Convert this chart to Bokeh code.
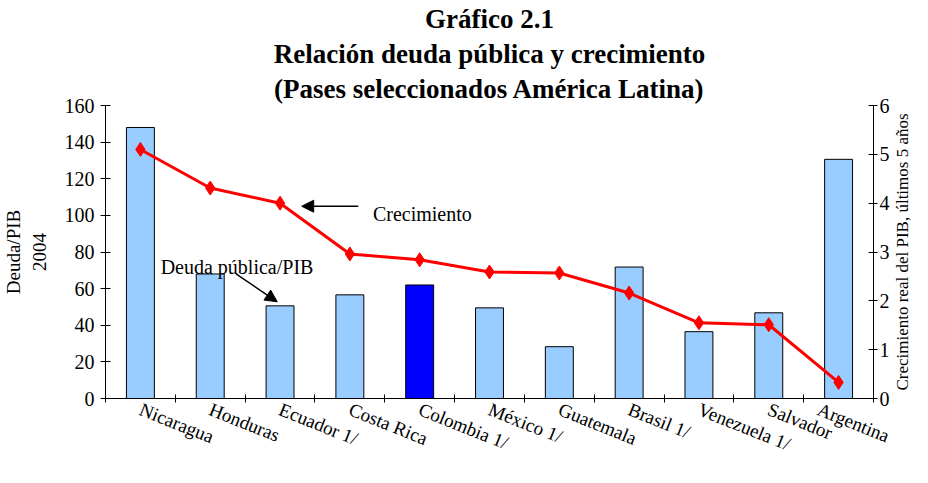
import math
from bokeh.plotting import figure
from bokeh.layouts import row
from bokeh.core.properties import value
from bokeh.models import (Range1d, LinearAxis, FixedTicker, Label, Arrow, NormalHead,
                          ColumnDataSource, Title)
from bokeh.embed import file_html
from bokeh.resources import INLINE

categories = ["Nicaragua", "Honduras", "Ecuador 1/", "Costa Rica", "Colombia 1/",
              "México 1/", "Guatemala", "Brasil 1/", "Venezuela 1/", "Salvador", "Argentina"]
deuda_pib = [148.0, 68.0, 50.6, 56.6, 62.0, 49.5, 28.3, 71.8, 36.5, 46.8, 130.6]
crecimiento = [5.10, 4.31, 4.00, 2.96, 2.84, 2.59, 2.57, 2.16, 1.55, 1.51, 0.33]
highlight = "Colombia 1/"
title_lines = ["Gráfico 2.1", "Relación deuda pública y crecimiento",
               "(Pases seleccionados América Latina)"]
right_label = "Crecimiento real del PIB, últimos 5 años"

FONT = "Liberation Serif"
W_MAIN, W_SIDE, H = 892, 20, 467
xs = list(range(len(categories)))
colors = ["#0000FF" if c == highlight else "#99CCFF" for c in categories]
src = ColumnDataSource(dict(x=xs, deuda=deuda_pib, crec=crecimiento, color=colors))

p = figure(width=W_MAIN, height=H, output_backend="svg", toolbar_location=None,
           x_range=Range1d(-0.5, len(categories) - 0.5), y_range=Range1d(0, 160),
           min_border_left=105, min_border_right=18, min_border_top=0, min_border_bottom=67)
p.outline_line_color = None
p.xgrid.visible = False
p.ygrid.visible = False
p.background_fill_color = "white"
p.border_fill_color = "white"


def style_title(tt, text):
    tt.text = text
    tt.align = "center"
    tt.offset = 22
    tt.text_font = FONT
    tt.text_font_size = "27px"
    tt.text_font_style = "bold"
    tt.text_color = "black"
    tt.standoff = 3


# built-in title is outermost; later-added titles sit further out than earlier ones
style_title(p.title, title_lines[0])
t3 = Title()
style_title(t3, title_lines[2])
p.add_layout(t3, "above")
t2 = Title()
style_title(t2, title_lines[1])
p.add_layout(t2, "above")

p.extra_y_ranges = {"right": Range1d(0, 6)}

p.vbar(x="x", top="deuda", width=0.4, source=src, fill_color="color",
       line_color="black", line_width=1)
p.line(x="x", y="crec", source=src, y_range_name="right", line_color="#FF0000", line_width=3)
p.scatter(x="x", y="crec", source=src, y_range_name="right", marker="diamond",
          size=14, fill_color="#FF0000", line_color="#FF0000")

# x axis
xa = p.xaxis[0]
xa.ticker = FixedTicker(ticks=xs, minor_ticks=[i - 0.5 for i in range(len(categories) + 1)])
xa.major_label_overrides = {i: c for i, c in zip(xs, categories)}
xa.major_tick_line_color = None
xa.minor_tick_in = 4
xa.minor_tick_out = 4
xa.minor_tick_line_color = "black"
xa.major_label_orientation = -0.38
xa.major_label_text_font = FONT
xa.major_label_text_font_size = "19px"
xa.major_label_text_color = "black"
xa.major_label_standoff = 4
xa.axis_line_color = "black"

# left axis
ya = p.yaxis[0]
ya.ticker = FixedTicker(ticks=list(range(0, 161, 20)))
ya.major_tick_in = 5
ya.major_tick_out = 5
ya.major_tick_line_color = "black"
ya.axis_line_color = "black"
ya.minor_tick_line_color = None
ya.major_label_text_font = FONT
ya.major_label_text_font_size = "20px"
ya.major_label_text_color = "black"
ya.major_label_standoff = 6
ya.axis_label = "Deuda/PIB\n2004"
ya.axis_label_text_font = FONT
ya.axis_label_text_font_size = "19px"
ya.axis_label_text_font_style = "normal"
ya.axis_label_text_color = "black"
ya.axis_label_standoff = 12

ra = LinearAxis(y_range_name="right", ticker=FixedTicker(ticks=list(range(0, 7))))
ra.major_tick_in = 5
ra.major_tick_out = 4
ra.major_tick_line_color = "black"
ra.axis_line_color = "black"
ra.minor_tick_line_color = None
ra.major_label_text_font = FONT
ra.major_label_text_font_size = "20px"
ra.major_label_text_color = "black"
ra.major_label_standoff = 2
p.add_layout(ra, "right")

# annotations
p.add_layout(Label(x=3.33, y=100.7, text="Crecimiento", text_baseline="middle",
                   text_font=FONT, text_font_size="20px", text_color="black"))
p.add_layout(Arrow(x_start=3.12, y_start=105.0, x_end=2.31, y_end=105.0,
                   line_color="black", line_width=1.5,
                   end=NormalHead(size=12, fill_color="black", line_color="black")))
p.add_layout(Label(x=0.29, y=71.8, text="Deuda pública/PIB", text_baseline="middle",
                   text_font=FONT, text_font_size="20px", text_color="black"))
p.add_layout(Arrow(x_start=1.37, y_start=68.0, x_end=1.96, y_end=52.8,
                   line_color="black", line_width=1.5,
                   end=NormalHead(size=12, fill_color="black", line_color="black")))

# narrow side strip carrying the right axis title, reading bottom to top
side = figure(width=W_SIDE, height=H, output_backend="svg", toolbar_location=None,
              x_range=Range1d(0, 1), y_range=Range1d(0, 1), x_axis_type=None,
              y_axis_type=None, min_border=0)
side.outline_line_color = None
side.xgrid.visible = False
side.ygrid.visible = False
side.title.visible = False
side.text(x=[0.5], y=[0.5], text=[right_label], angle=math.pi / 2,
          text_align="center", text_baseline="middle", text_font=value(FONT),
          text_font_size="17px", text_color="black")

layout = row(p, side, spacing=0)
open("out.html", "w").write(file_html(layout, INLINE))
